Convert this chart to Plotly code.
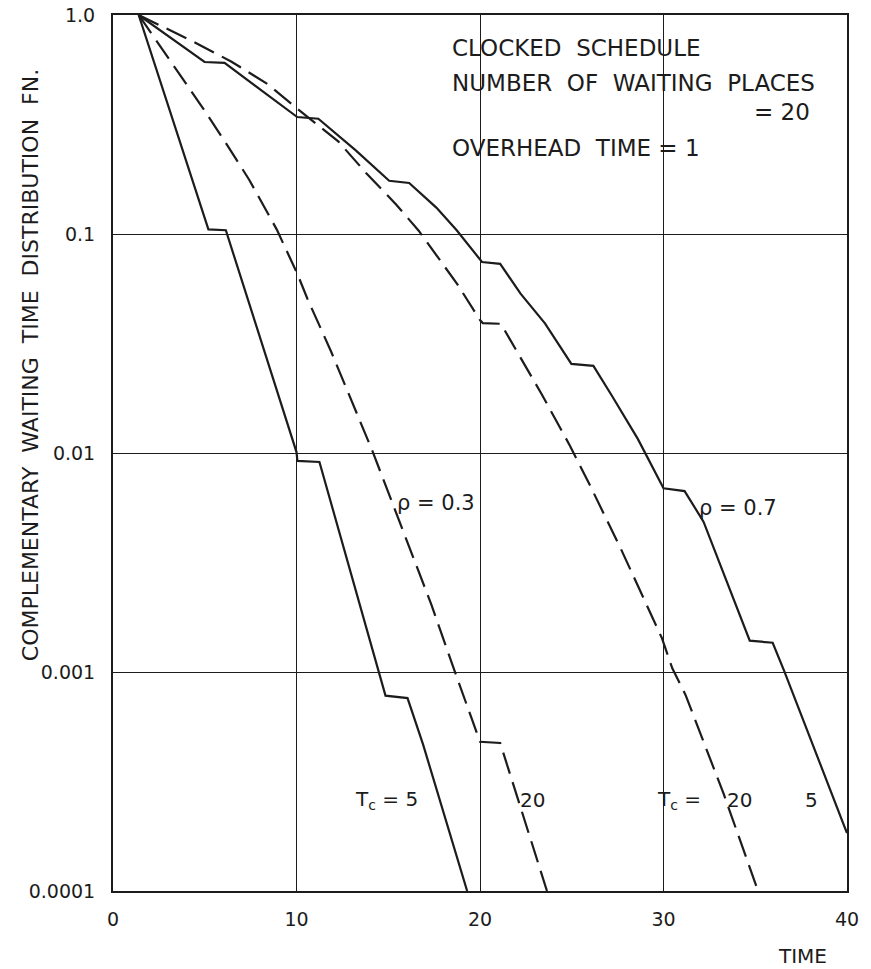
import plotly.graph_objects as go

# ---- data (time, complementary waiting-time distribution) ----
# rho = 0.3, Tc = 5 (solid)
t_r03_tc5 = [1.4, 5.2, 6.15, 10.0, 10.05, 11.25, 14.85, 16.05, 16.9, 18.6, 19.3]
y_r03_tc5 = [1.0, 0.105, 0.104, 0.0101, 0.0092, 0.0091, 0.00078, 0.00076, 0.000466, 0.000156, 0.0001]

# rho = 0.3, Tc = 20 (dashed)
t_r03_tc20 = [1.4, 2.64, 3.75, 4.86, 6.14, 7.42, 8.92, 10.04, 10.6, 11.89, 14.14, 17.35, 18.6, 20.0, 21.1, 23.65]
y_r03_tc20 = [1.0, 0.71, 0.52, 0.38, 0.261, 0.177, 0.105, 0.066, 0.0505, 0.029, 0.0102, 0.00203, 0.00102, 0.00048, 0.000474, 0.0001]

# rho = 0.7, Tc = 5 (solid)
t_r07_tc5 = [1.4, 4.99, 6.08, 10.04, 11.19, 13.23, 15.05, 16.14, 17.62, 18.73, 20.11, 21.10, 22.21, 23.54,
             24.98, 26.18, 27.18, 28.6, 30.0, 31.15, 32.18, 33.30, 34.7, 35.95, 36.58, 39.85, 40.0]
y_r07_tc5 = [1.0, 0.61, 0.605, 0.342, 0.336, 0.241, 0.175, 0.171, 0.132, 0.104, 0.0745, 0.0731, 0.0534, 0.0391,
             0.0255, 0.0250, 0.0183, 0.0116, 0.0069, 0.0067, 0.00486, 0.00279, 0.00139, 0.00136, 0.00101, 0.000198, 0.000184]

# rho = 0.7, Tc = 20 (dashed)
t_r07_tc20 = [1.4, 4.43, 6.46, 8.44, 10.0, 12.29, 13.79, 15.44, 16.66, 18.77, 20.0, 20.15, 21.14, 23.37,
              24.9, 26.0, 27.67, 29.91, 30.48, 31.2, 33.29, 35.15]
y_r07_tc20 = [1.0, 0.752, 0.612, 0.483, 0.376, 0.264, 0.190, 0.136, 0.1035, 0.0589, 0.0405, 0.0392, 0.0389, 0.0185,
              0.0108, 0.0071, 0.00366, 0.00143, 0.00104, 0.000786, 0.000276, 0.0001]

x_ticks = [0, 10, 20, 30, 40]
y_ticks = [0.0001, 0.001, 0.01, 0.1, 1.0]
y_ticktext = ["0.0001", "0.001", "0.01", "0.1", "1.0"]

INK = "#1c1c1c"
FONT = "DejaVu Sans"
DASH = "22px,9px"

fig = go.Figure()
series = [
    (t_r03_tc5, y_r03_tc5, "solid", "ρ=0.3, Tc=5"),
    (t_r03_tc20, y_r03_tc20, DASH, "ρ=0.3, Tc=20"),
    (t_r07_tc5, y_r07_tc5, "solid", "ρ=0.7, Tc=5"),
    (t_r07_tc20, y_r07_tc20, DASH, "ρ=0.7, Tc=20"),
]
for xs, ys, dash, name in series:
    fig.add_trace(go.Scatter(x=xs, y=ys, mode="lines", name=name,
                             line=dict(color=INK, width=2.2, dash=dash)))

fig.update_layout(
    width=871, height=969,
    margin=dict(l=113, r=24, t=15, b=78, autoexpand=False),
    paper_bgcolor="white", plot_bgcolor="white",
    showlegend=False,
    font=dict(family=FONT, color=INK, size=19),
)
fig.update_xaxes(
    range=[0, 40], tickvals=x_ticks, ticktext=[str(v) for v in x_ticks],
    showgrid=True, gridcolor=INK, gridwidth=1.4, automargin=False,
    showline=True, linecolor=INK, linewidth=2, mirror=True,
    ticks="", ticklabelstandoff=10, zeroline=False,
    tickfont=dict(size=19, family=FONT, color=INK),
)
fig.update_yaxes(
    type="log", range=[-4, 0], tickvals=y_ticks, ticktext=y_ticktext,
    showgrid=True, gridcolor=INK, gridwidth=1.4, automargin=False,
    showline=True, linecolor=INK, linewidth=2, mirror=True,
    ticks="", ticklabelstandoff=12, zeroline=False,
    tickfont=dict(size=19, family=FONT, color=INK),
)

def note(text, x, y, xanchor="center", size=20, angle=0):
    fig.add_annotation(text=text, x=x, y=y, xref="paper", yref="paper",
                       xanchor=xanchor, yanchor="middle", showarrow=False,
                       textangle=angle, font=dict(size=size, family=FONT, color=INK))

# axis titles
note("COMPLEMENTARY  WAITING  TIME  DISTRIBUTION  FN.", -0.112, 0.600, angle=-90, size=22)
note("TIME", 0.940, -0.074, size=20)

# info block
note("CLOCKED  SCHEDULE", 0.459, 0.962, xanchor="left", size=23)
note("NUMBER  OF  WAITING  PLACES", 0.459, 0.922, xanchor="left", size=23)
note("= 20", 0.952, 0.889, xanchor="right", size=23)
note("OVERHEAD  TIME = 1", 0.459, 0.848, xanchor="left", size=23)

# curve labels
note("ρ = 0.3", 0.440, 0.443, size=21)
note("ρ = 0.7", 0.851, 0.437, size=21)
note("T<sub>c</sub> = 5", 0.372, 0.104, size=20)
note("20", 0.571, 0.104, size=20)
note("T<sub>c</sub> =", 0.771, 0.104, size=20)
note("20", 0.854, 0.104, size=20)
note("5", 0.952, 0.104, size=20)

fig.write_html("out.html")
